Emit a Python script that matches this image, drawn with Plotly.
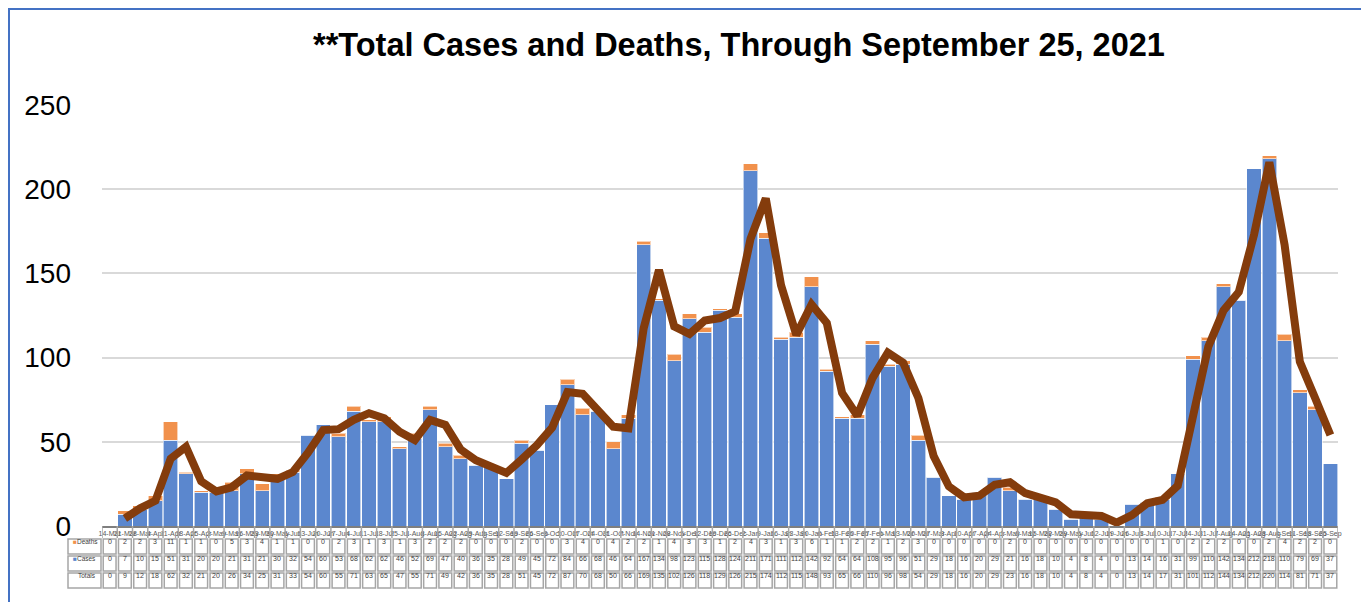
import plotly.graph_objects as go
import pandas as pd

weeks = ["14-Mar", "21-Mar", "28-Mar", "4-Apr", "11-Apr", "18-Apr", "25-Apr", "2-May", "9-May", "16-May",
         "23-May", "30-May", "6-Jun", "13-Jun", "20-Jun", "27-Jun", "4-Jul", "11-Jul", "18-Jul", "25-Jul",
         "1-Aug", "8-Aug", "15-Aug", "22-Aug", "29-Aug", "5-Sep", "12-Sep", "19-Sep", "26-Sep", "3-Oct",
         "10-Oct", "17-Oct", "24-Oct", "31-Oct", "7-Nov", "14-Nov", "21-Nov", "28-Nov", "5-Dec", "12-Dec",
         "19-Dec", "26-Dec", "2-Jan", "9-Jan", "16-Jan", "23-Jan", "30-Jan", "6-Feb", "13-Feb", "20-Feb",
         "27-Feb", "6-Mar", "13-Mar", "20-Mar", "27-Mar", "3-Apr", "10-Apr", "17-Apr", "24-Apr", "1-May",
         "8-May", "15-May", "22-May", "29-May", "5-Jun", "12-Jun", "19-Jun", "26-Jun", "3-Jul", "10-Jul",
         "17-Jul", "24-Jul", "31-Jul", "7-Aug", "14-Aug", "21-Aug", "28-Aug", "4-Sep", "11-Sep", "18-Sep",
         "25-Sep"]

deaths = [0, 2, 2, 3, 11, 1, 1, 0, 5, 3,
          4, 1, 1, 0, 0, 2, 3, 1, 3, 1,
          3, 2, 2, 2, 0, 0, 0, 2, 0, 0,
          3, 4, 0, 4, 2, 2, 1, 4, 3, 3,
          1, 2, 4, 3, 1, 3, 6, 1, 1, 2,
          2, 1, 2, 3, 0, 0, 0, 0, 0, 2,
          0, 0, 0, 0, 0, 0, 0, 0, 0, 1,
          0, 2, 2, 2, 0, 0, 2, 4, 2, 2,
          0]

cases = [0, 7, 10, 15, 51, 31, 20, 20, 21, 31,
         21, 30, 32, 54, 60, 53, 68, 62, 62, 46,
         52, 69, 47, 40, 36, 35, 28, 49, 45, 72,
         84, 66, 68, 46, 64, 167, 134, 98, 123, 115,
         128, 124, 211, 171, 111, 112, 142, 92, 64, 64,
         108, 95, 96, 51, 29, 18, 16, 20, 29, 21,
         16, 18, 10, 4, 8, 4, 0, 13, 14, 16,
         31, 99, 110, 142, 134, 212, 218, 110, 79, 69,
         37]

totals = [0, 9, 12, 18, 62, 32, 21, 20, 26, 34,
          25, 31, 33, 54, 60, 55, 71, 63, 65, 47,
          55, 71, 49, 42, 36, 35, 28, 51, 45, 72,
          87, 70, 68, 50, 66, 169, 135, 102, 126, 118,
          129, 126, 215, 174, 112, 115, 148, 93, 65, 66,
          110, 96, 98, 54, 29, 18, 16, 20, 29, 23,
          16, 18, 10, 4, 8, 4, 0, 13, 14, 17,
          31, 101, 112, 144, 134, 212, 220, 114, 81, 71,
          37]

row_labels = ["Deaths", "Cases", "Totals"]
y_ticks = [0, 50, 100, 150, 200, 250]

# Excel-style 2-period moving average trendline of Totals
totals_ma = pd.Series(totals, dtype=float).rolling(2).mean()

BLUE = "#5B87CE"
ORANGE = "#F1914C"
BROWN = "#843C0C"
GRID = "#A6A6A6"
TXT = "#404040"

OFF = 8  # page body margin
W, H = 1369 - OFF, 602 - OFF
PL, PR, PT, PB = 102, 1338, 105, 526  # plot area in page pixels
ML, MT = PL - OFF, PT - OFF
MR = W - (PR - OFF)
MB = H - (PB - OFF)
PW, PH = PR - PL, PB - PT


def py(px):  # page pixel y -> paper y
    return (PB - px) / PH


def pxx(px):  # page pixel x -> paper x
    return (px - PL) / PW


fig = go.Figure()
fig.add_trace(go.Bar(x=weeks, y=cases, name="Cases", marker_color=BLUE,
                     marker_line=dict(color="rgba(255,255,255,0.6)", width=1)))
fig.add_trace(go.Bar(x=weeks, y=deaths, name="Deaths", marker_color=ORANGE,
                     marker_line=dict(color="rgba(255,255,255,0.6)", width=1)))
fig.add_trace(go.Scatter(x=weeks, y=totals_ma, mode="lines", name="Totals",
                         line=dict(color=BROWN, width=8), cliponaxis=False))

shapes = []
annotations = []

# table geometry (page pixels)
row_tops = [538, 555, 572]
row_h = 17
n = len(weeks)

for r, (lab, vals) in enumerate(zip(row_labels, [deaths, cases, totals])):
    top = row_tops[r]
    y0, y1 = py(top + 1), py(top + row_h - 1)
    for i, v in enumerate(vals):
        shapes.append(dict(type="rect", xref="x", yref="paper", x0=i - 0.42, x1=i + 0.42,
                           y0=y0, y1=y1, line=dict(color=GRID, width=1.5), layer="above"))
        annotations.append(dict(x=weeks[i], y=py(top + row_h / 2), xref="x", yref="paper",
                                text=str(v), showarrow=False, font=dict(size=7, color=TXT,
                                family="Liberation Sans")))
    # label cell
    shapes.append(dict(type="rect", xref="paper", yref="paper", x0=pxx(68), x1=pxx(101),
                       y0=y0, y1=y1, line=dict(color=GRID, width=1.5)))
    if lab == "Deaths":
        txt = f'<span style="color:{ORANGE}">■</span>Deaths'
        xl = 71
    elif lab == "Cases":
        txt = f'<span style="color:{BLUE}">■</span>Cases'
        xl = 71
    else:
        txt = "Totals"
        xl = 76
    annotations.append(dict(x=pxx(xl), y=py(top + row_h / 2), xref="paper", yref="paper",
                            xanchor="left", text=txt, showarrow=False,
                            font=dict(size=6.5, color=TXT, family="Liberation Sans")))

# header separators
for i in range(n + 1):
    shapes.append(dict(type="line", xref="x", yref="paper", x0=i - 0.5, x1=i - 0.5,
                       y0=py(526), y1=py(538), line=dict(color=GRID, width=1.5)))

# outer blue border
shapes.append(dict(type="rect", xref="paper", yref="paper", x0=pxx(9), x1=pxx(1367),
                   y0=py(610), y1=py(9), line=dict(color="#4472C4", width=2)))

# title as annotation for exact placement
annotations.append(dict(text="<b>**Total Cases and Deaths, Through September 25, 2021</b>",
                        x=pxx(739), y=py(45), xref="paper", yref="paper",
                        xanchor="center", yanchor="middle", showarrow=False,
                        font=dict(family="Liberation Sans", size=32.5, color="black")))

fig.update_layout(
    width=W, height=H,
    margin=dict(l=ML, r=MR, t=MT, b=MB, autoexpand=False),
    barmode="stack", bargap=0.06,
    plot_bgcolor="white", paper_bgcolor="white",
    showlegend=False,
    xaxis=dict(type="category", tickmode="array", tickvals=weeks, ticktext=weeks,
               tickangle=0, tickfont=dict(size=7, color="#595959", family="Liberation Sans"),
               showline=True, linecolor="#7F7F7F", linewidth=1.5, ticks="",
               showgrid=False, range=[-0.5, n - 0.5], fixedrange=True, automargin=False),
    yaxis=dict(range=[0, 250], tickvals=y_ticks, showgrid=True, gridcolor="#D9D9D9",
               gridwidth=1.5, zeroline=False, ticks="", ticklabelstandoff=30, automargin=False,
               tickfont=dict(family="Liberation Sans", size=28, color="black")),
    shapes=shapes, annotations=annotations,
)

fig.write_html("out.html")
